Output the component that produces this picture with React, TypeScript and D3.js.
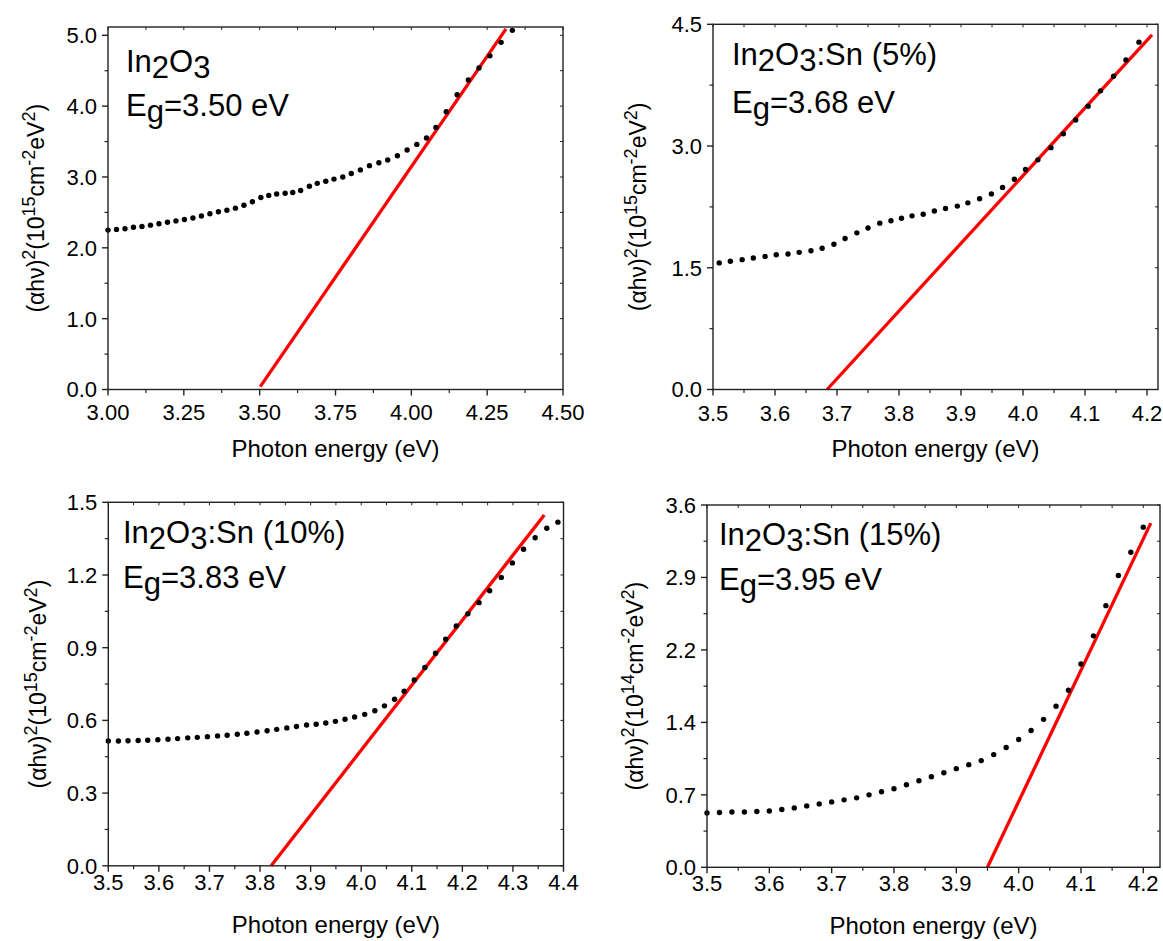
import React from 'react';
import * as d3 from 'd3';

const W = 1163;
const H = 941;

// ---------- Panel 1 : In2O3 ----------
const p1X = [3.000, 3.028, 3.056, 3.084, 3.112, 3.140, 3.168, 3.196, 3.224, 3.252, 3.280, 3.308, 3.336, 3.364, 3.392, 3.420, 3.448, 3.476, 3.504, 3.530, 3.556, 3.584, 3.609, 3.635, 3.664, 3.690, 3.718, 3.745, 3.774, 3.802, 3.832, 3.862, 3.893, 3.922, 3.954, 3.986, 4.018, 4.050, 4.081, 4.115, 4.151, 4.188, 4.223, 4.259, 4.296, 4.333];
const p1Y = [2.25, 2.26, 2.27, 2.29, 2.30, 2.32, 2.34, 2.36, 2.38, 2.40, 2.42, 2.45, 2.48, 2.51, 2.53, 2.56, 2.60, 2.65, 2.71, 2.74, 2.76, 2.77, 2.78, 2.81, 2.87, 2.91, 2.94, 2.97, 3.00, 3.05, 3.10, 3.16, 3.20, 3.24, 3.30, 3.38, 3.46, 3.55, 3.70, 3.92, 4.16, 4.37, 4.54, 4.71, 4.90, 5.07];
const p1FitX = [3.502, 4.312];
const p1FitY = [0.04, 5.09];
const p1XTicks = [3.0, 3.25, 3.5, 3.75, 4.0, 4.25, 4.5];
const p1YTicks = [0, 1, 2, 3, 4, 5];

// ---------- Panel 2 : In2O3:Sn (5%) ----------
const p2X = [3.510, 3.528, 3.547, 3.565, 3.584, 3.602, 3.621, 3.639, 3.658, 3.676, 3.695, 3.713, 3.732, 3.750, 3.769, 3.787, 3.804, 3.821, 3.839, 3.857, 3.875, 3.894, 3.911, 3.930, 3.949, 3.967, 3.986, 4.004, 4.024, 4.045, 4.065, 4.085, 4.105, 4.125, 4.146, 4.166, 4.187];
const p2Y = [1.56, 1.58, 1.60, 1.62, 1.64, 1.66, 1.67, 1.69, 1.71, 1.74, 1.79, 1.86, 1.93, 1.99, 2.05, 2.08, 2.11, 2.14, 2.16, 2.20, 2.23, 2.26, 2.30, 2.35, 2.41, 2.49, 2.59, 2.71, 2.83, 2.98, 3.15, 3.32, 3.49, 3.68, 3.86, 4.06, 4.28];
const p2FitX = [3.684, 4.208];
const p2FitY = [0.0, 4.37];
const p2XTicks = [3.5, 3.6, 3.7, 3.8, 3.9, 4.0, 4.1, 4.2];
const p2YTicks = [0, 1.5, 3.0, 4.5];

// ---------- Panel 3 : In2O3:Sn (10%) ----------
const p3X = [3.500, 3.520, 3.539, 3.559, 3.578, 3.598, 3.618, 3.637, 3.657, 3.676, 3.696, 3.716, 3.735, 3.755, 3.774, 3.794, 3.814, 3.833, 3.853, 3.872, 3.892, 3.911, 3.930, 3.949, 3.968, 3.987, 4.007, 4.027, 4.046, 4.066, 4.085, 4.105, 4.126, 4.147, 4.167, 4.188, 4.211, 4.233, 4.254, 4.277, 4.299, 4.321, 4.344, 4.367, 4.389];
const p3Y = [0.515, 0.515, 0.516, 0.517, 0.518, 0.520, 0.522, 0.525, 0.528, 0.530, 0.533, 0.536, 0.539, 0.543, 0.547, 0.552, 0.557, 0.563, 0.569, 0.575, 0.581, 0.584, 0.589, 0.596, 0.605, 0.614, 0.625, 0.640, 0.660, 0.687, 0.720, 0.767, 0.818, 0.877, 0.935, 0.990, 1.040, 1.086, 1.135, 1.190, 1.250, 1.306, 1.354, 1.393, 1.418];
const p3FitX = [3.822, 4.362];
const p3FitY = [0.0, 1.448];
const p3XTicks = [3.5, 3.6, 3.7, 3.8, 3.9, 4.0, 4.1, 4.2, 4.3, 4.4];
const p3YTicks = [0, 0.3, 0.6, 0.9, 1.2, 1.5];

// ---------- Panel 4 : In2O3:Sn (15%) ----------
const p4X = [3.50, 3.52, 3.54, 3.56, 3.58, 3.60, 3.62, 3.64, 3.66, 3.68, 3.70, 3.72, 3.74, 3.76, 3.78, 3.80, 3.82, 3.84, 3.86, 3.88, 3.90, 3.92, 3.94, 3.96, 3.98, 4.00, 4.02, 4.04, 4.06, 4.08, 4.10, 4.12, 4.14, 4.16, 4.18, 4.20];
const p4Y = [0.54, 0.545, 0.55, 0.55, 0.555, 0.56, 0.575, 0.59, 0.61, 0.63, 0.65, 0.67, 0.69, 0.72, 0.75, 0.78, 0.82, 0.86, 0.90, 0.94, 0.98, 1.02, 1.06, 1.12, 1.19, 1.27, 1.36, 1.47, 1.60, 1.76, 2.02, 2.30, 2.60, 2.90, 3.13, 3.38];
const p4FitX = [3.950, 4.212];
const p4FitY = [0.0, 3.42];
const p4XTicks = [3.5, 3.6, 3.7, 3.8, 3.9, 4.0, 4.1, 4.2];
const p4YTicks = [0, 0.72, 1.44, 2.16, 2.88, 3.6];

const FONT = "'Liberation Sans', Arial, Helvetica, sans-serif";

type PanelProps = {
  left: number; right: number; top: number; bottom: number;
  xDomain: [number, number]; yDomain: [number, number];
  xTicks: number[]; yTicks: number[];
  xFmt: string; yFmt: string;
  xs: number[]; ys: number[];
  fitX: number[]; fitY: number[];
  sample: string; eg: string; power: string;
  annX: number; annY1: number; annY2: number;
  xLabelOff: number; yTitleOff: number;
};

function minors(t: number[]): number[] {
  const out: number[] = [];
  for (let i = 0; i < t.length - 1; i++) out.push((t[i] + t[i + 1]) / 2);
  return out;
}

function Panel(p: PanelProps) {
  const x = d3.scaleLinear().domain(p.xDomain).range([p.left, p.right]);
  const y = d3.scaleLinear().domain(p.yDomain).range([p.bottom, p.top]);
  const fx = d3.format(p.xFmt);
  const fy = d3.format(p.yFmt);
  const xMin = minors(p.xTicks);
  const yMin = minors(p.yTicks);
  const line = d3.line<number>().x((_, i) => x(p.fitX[i])).y((_, i) => y(p.fitY[i]));
  const axisColor = '#222';
  const cx = (p.left + p.right) / 2;
  const cy = (p.top + p.bottom) / 2;
  return (
    <g>
      <path d={line(p.fitX) || ''} stroke="#ff0000" strokeWidth={3.3} fill="none" />
      {p.xs.map((v, i) => (
        <circle key={i} cx={x(v)} cy={y(p.ys[i])} r={2.7} fill="#000" />
      ))}
      <rect x={p.left} y={p.top} width={p.right - p.left} height={p.bottom - p.top}
        fill="none" stroke={axisColor} strokeWidth={1.4} />
      {p.xTicks.map((t, i) => (
        <g key={'xt' + i}>
          <line x1={x(t)} x2={x(t)} y1={p.bottom} y2={p.bottom + 6} stroke={axisColor} strokeWidth={1.4} />
          <line x1={x(t)} x2={x(t)} y1={p.top} y2={p.top + 3} stroke={axisColor} strokeWidth={1} />
          <text x={x(t)} y={p.bottom + p.xLabelOff} textAnchor="middle" fontSize={22} fill="#000">{fx(t)}</text>
        </g>
      ))}
      {xMin.map((t, i) => (
        <g key={'xm' + i}>
          <line x1={x(t)} x2={x(t)} y1={p.bottom} y2={p.bottom + 3.5} stroke={axisColor} strokeWidth={1.2} />
          <line x1={x(t)} x2={x(t)} y1={p.top} y2={p.top + 3} stroke={axisColor} strokeWidth={1} />
        </g>
      ))}
      {p.yTicks.map((t, i) => (
        <g key={'yt' + i}>
          <line x1={p.left - 6} x2={p.left} y1={y(t)} y2={y(t)} stroke={axisColor} strokeWidth={1.4} />
          <line x1={p.right - 3} x2={p.right} y1={y(t)} y2={y(t)} stroke={axisColor} strokeWidth={1} />
          <text x={p.left - 11} y={y(t)} dy="0.36em" textAnchor="end" fontSize={22} fill="#000">{fy(t)}</text>
        </g>
      ))}
      {yMin.map((t, i) => (
        <g key={'ym' + i}>
          <line x1={p.left - 3.5} x2={p.left} y1={y(t)} y2={y(t)} stroke={axisColor} strokeWidth={1.2} />
          <line x1={p.right - 3} x2={p.right} y1={y(t)} y2={y(t)} stroke={axisColor} strokeWidth={1} />
        </g>
      ))}
      <text x={cx} y={p.bottom + 67} textAnchor="middle" fontSize={24} fill="#000">Photon energy (eV)</text>
      <text transform={`translate(${p.left - p.yTitleOff},${cy}) rotate(-90)`} textAnchor="middle" fontSize={23} fill="#000">
        <tspan>(αhν)</tspan>
        <tspan fontSize={18} dy={-9}>2</tspan>
        <tspan dy={9}>(10</tspan>
        <tspan fontSize={18} dy={-9}>{p.power}</tspan>
        <tspan dy={9}>cm</tspan>
        <tspan fontSize={18} dy={-9}>-2</tspan>
        <tspan dy={9}>eV</tspan>
        <tspan fontSize={18} dy={-9}>2</tspan>
        <tspan dy={9}>)</tspan>
      </text>
      <text x={p.annX} y={p.annY1} fontSize={31} fill="#000">
        <tspan>In</tspan>
        <tspan dy={6}>2</tspan>
        <tspan dy={-6}>O</tspan>
        <tspan dy={6}>3</tspan>
        <tspan dy={-6}>{p.sample}</tspan>
      </text>
      <text x={p.annX} y={p.annY2} fontSize={31} fill="#000">
        <tspan>E</tspan>
        <tspan dy={6}>g</tspan>
        <tspan dy={-6}>{'=' + p.eg + ' eV'}</tspan>
      </text>
    </g>
  );
}

export default function App() {
  return (
    <svg width={W} height={H} viewBox={`0 0 ${W} ${H}`}
      style={{ position: 'absolute', left: 0, top: 0, background: '#fff', fontFamily: FONT }}>
      <rect x={0} y={0} width={W} height={H} fill="#fff" />
      <Panel left={108} right={563} top={27} bottom={389.5}
        xDomain={[3.0, 4.5]} yDomain={[0, 5.117]}
        xTicks={p1XTicks} yTicks={p1YTicks} xFmt=".2f" yFmt=".1f"
        xs={p1X} ys={p1Y} fitX={p1FitX} fitY={p1FitY}
        sample="" eg="3.50" power="15"
        annX={126} annY1={72} annY2={116} xLabelOff={30} yTitleOff={64} />
      <Panel left={713} right={1158} top={24.3} bottom={389.5}
        xDomain={[3.5, 4.2177]} yDomain={[0, 4.5]}
        xTicks={p2XTicks} yTicks={p2YTicks} xFmt=".1f" yFmt=".1f"
        xs={p2X} ys={p2Y} fitX={p2FitX} fitY={p2FitY}
        sample=":Sn (5%)" eg="3.68" power="15"
        annX={732} annY1={65} annY2={113} xLabelOff={31} yTitleOff={67} />
      <Panel left={108.3} right={563.5} top={502.3} bottom={865.8}
        xDomain={[3.5, 4.4]} yDomain={[0, 1.5]}
        xTicks={p3XTicks} yTicks={p3YTicks} xFmt=".1f" yFmt=".1f"
        xs={p3X} ys={p3Y} fitX={p3FitX} fitY={p3FitY}
        sample=":Sn (10%)" eg="3.83" power="15"
        annX={123} annY1={543} annY2={588} xLabelOff={24} yTitleOff={62} />
      <Panel left={707} right={1160} top={505} bottom={867.3}
        xDomain={[3.5, 4.2268]} yDomain={[0, 3.6]}
        xTicks={p4XTicks} yTicks={p4YTicks} xFmt=".1f" yFmt=".1f"
        xs={p4X} ys={p4Y} fitX={p4FitX} fitY={p4FitY}
        sample=":Sn (15%)" eg="3.95" power="14"
        annX={719} annY1={545} annY2={590} xLabelOff={24} yTitleOff={64} />
    </svg>
  );
}
